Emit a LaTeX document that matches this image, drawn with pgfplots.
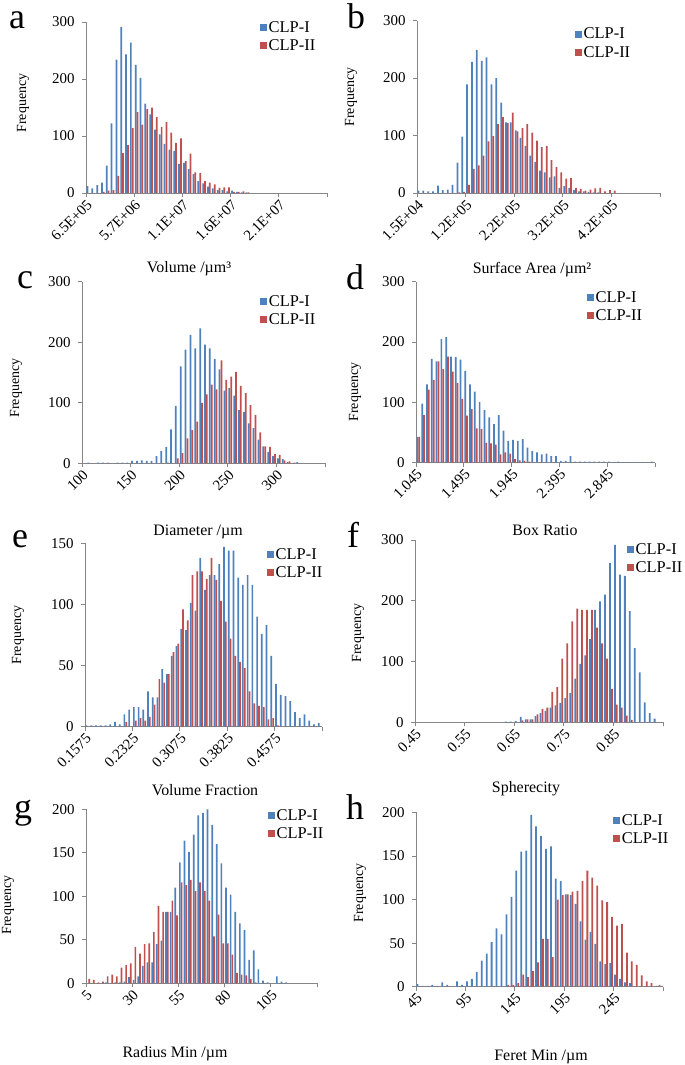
\documentclass[border=0pt]{standalone}
\usepackage{fontspec}
\setmainfont{Liberation Serif}
\usepackage{pgfplots}
\usepackage{pgfplotstable}
\pgfplotsset{compat=1.18}

\definecolor{clpI}{HTML}{4F81BD}
\definecolor{clpII}{HTML}{C0504D}
\definecolor{axg}{HTML}{868686}

% bin index, CLP-I count, CLP-II count
\pgfplotstableread{
i b r
0 12 0
1 8 0
2 14 0
3 18 2
4 48 4
5 122 5
6 234 30
7 291 70
8 243 84
9 264 114
10 225 142
11 202 120
12 157 147
13 138 150
14 111 133
15 103 116
16 86 125
17 76 106
18 74 88
19 51 96
20 53 56
21 42 69
22 33 36
23 21 35
24 17 21
25 11 18
26 8 15
27 5 9
28 5 10
29 3 10
30 4 2
31 2 2
32 1 3
33 1 1
}\tvol

\pgfplotstableread{
i b r
0 4 0
1 4 0
2 3 0
3 3 0
4 13 0
5 5 0
6 6 0
7 14 0
8 53 1
9 98 2
10 189 14
11 228 42
12 249 48
13 230 65
14 236 90
15 189 99
16 200 120
17 157 132
18 123 122
19 123 140
20 109 107
21 96 113
22 82 120
23 65 105
24 54 91
25 39 80
26 36 82
27 27 57
28 29 45
29 9 36
30 12 25
31 9 26
32 5 9
33 3 7
34 3 4
35 2 6
36 1 8
37 1 9
38 0 3
39 0 5
40 0 4
}\tsurf

\pgfplotstableread{
i b r
1 1 0
3 1 0
4 1 0
5 1 0
7 1 0
8 1 0
9 1 0
10 4 0
11 4 0
12 5 0
13 4 0
14 4 0
15 12 0
16 20 0
17 27 1
18 56 0
19 95 8
20 160 17
21 188 41
22 212 55
23 190 69
24 223 100
25 196 114
26 190 130
27 172 122
28 155 170
29 120 138
30 124 143
31 112 151
32 88 128
33 85 116
34 66 96
35 58 80
36 39 51
37 28 28
38 19 27
39 12 15
40 8 14
41 7 5
42 2 3
43 0 1
44 2 0
}\tdiam

\pgfplotstableread{
i b r
0 43 43
1 98 79
2 130 121
3 172 137
4 168 168
5 205 155
6 208 176
7 176 151
8 175 132
9 171 106
10 152 78
11 130 89
12 118 57
13 101 56
14 87 33
15 75 32
16 64 30
17 79 14
18 53 17
19 36 15
20 38 6
21 36 4
22 39 3
23 25 2
24 19 0
25 17 0
26 14 0
27 15 0
28 11 0
29 11 0
30 3 0
31 3 0
32 11 0
33 2 0
34 2 0
35 2 0
36 2 0
37 2 0
38 2 0
39 2 0
40 2 0
41 1 0
42 2 0
43 1 0
44 1 0
45 1 0
46 1 0
47 1 0
48 1 0
49 2 0
}\tbox

\pgfplotstableread{
i b r
0 1 0
1 1 0
2 1 0
3 1 0
4 1 0
5 2 0
6 4 0
7 2 0
8 10 4
9 14 0
10 16 5
11 16 7
12 14 5
13 29 8
14 24 18
15 24 39
16 47 36
17 43 43
18 58 61
19 66 68
20 80 96
21 79 87
22 101 124
23 95 127
24 138 127
25 112 121
26 124 138
27 124 120
28 133 103
29 147 86
30 144 72
31 144 58
32 122 53
33 116 48
34 124 29
35 116 19
36 90 17
37 76 16
38 83 6
39 58 7
40 35 1
41 26 0
42 25 0
43 21 0
44 12 0
45 7 0
46 10 0
47 5 0
48 2 0
49 3 0
}\tfrac

\pgfplotstableread{
i b r
18 1 0
19 1 0
20 2 0
21 9 3
22 5 5
23 5 5
24 10 13
25 15 22
26 19 24
27 24 50
28 28 58
29 32 105
30 40 130
31 48 166
32 72 187
33 96 185
34 110 185
35 137 185
36 185 156
37 199 130
38 210 105
39 262 55
40 292 29
41 243 24
42 241 11
43 183 4
44 122 0
45 82 0
46 33 0
47 15 0
48 6 0
}\tsph

\pgfplotstableread{
i b r
0 0 5
1 0 4
2 0 1
3 0 2
4 1 8
5 0 10
6 1 8
7 1 18
8 2 21
9 7 23
10 4 42
11 8 34
12 20 45
13 24 46
14 24 59
15 45 89
16 49 82
17 82 82
18 82 95
19 110 78
20 139 116
21 164 113
22 151 119
23 171 106
24 193 116
25 196 106
26 200 95
27 182 54
28 160 79
29 138 46
30 110 46
31 102 33
32 82 12
33 69 10
34 61 9
35 27 5
36 38 1
37 16 0
38 3 0
39 1 0
41 8 0
42 2 0
43 1 0
}\trad

\pgfplotstableread{
i b r
0 3 0
1 1 0
2 1 0
3 2 0
4 1 0
5 5 0
6 2 0
8 6 0
9 2 0
10 6 0
11 9 0
12 17 0
13 30 0
14 38 0
15 51 0
16 67 0
17 60 0
18 83 2
19 103 2
20 133 4
21 155 14
22 156 11
23 197 18
24 184 28
25 173 55
26 158 55
27 161 34
28 124 100
29 121 105
30 106 106
31 105 109
32 95 110
33 75 121
34 54 133
35 63 125
36 49 116
37 29 99
38 26 97
39 27 80
40 14 70
41 9 72
42 5 39
43 4 29
44 0 25
45 0 13
46 0 6
47 0 4
48 0 1
49 2 1
}\tferet

\pgfplotsset{
  hist/.style={
    scale only axis, xmin=0, xmax=50, ymin=0,
    axis lines*=left,
    axis line style={-, draw=axg, line width=0.75bp},
    x axis line style={-}, y axis line style={-},
    tick align=outside, major tick length=4bp,
    major tick style={draw=axg, line width=0.75bp},
    xtick={0,10,20,30,40,50},
    x tick label style={rotate=45, anchor=north east, inner sep=1bp,
      font=\fontsize{15}{15}\selectfont},
    y tick label style={font=\fontsize{15}{15}\selectfont, xshift=-4bp},
    /pgf/number format/assume math mode=true,
    legend cell align=left,
    legend style={anchor=north west, draw=none, fill=none, inner sep=0pt,
      row sep=3bp, font=\fontsize{16.5}{17}\selectfont, nodes={inner sep=1.5bp}},
  },
  serI/.style={ybar, bar width=0.36, bar shift=0.31, fill=clpI, draw=none,
    legend image code/.code={\fill[clpI] (0bp,-3.5bp) rectangle (7bp,3.5bp);}},
  serII/.style={ybar, bar width=0.36, bar shift=0.69, fill=clpII, draw=none,
    legend image code/.code={\fill[clpII] (0bp,-3.5bp) rectangle (7bp,3.5bp);}},
}

\newcommand\panel[1]{\fontsize{36}{36}\selectfont #1}
\newcommand\atitle{\fontsize{16}{16}\selectfont}
\newcommand\ftitle{\fontsize{14}{14}\selectfont}

\begin{document}
\begin{tikzpicture}
\useasboundingbox (0bp,0bp) rectangle (685bp,-1065bp);

% a
\begin{axis}[hist, at={(86bp,-193bp)}, anchor=south west, width=241bp, height=171bp,
  ymax=300, ytick={0,100,200,300},
  xticklabels={6.5E+05,5.7E+06,1.1E+07,1.6E+07,2.1E+07,{}},
  legend style={at={(0.722,1.015)}}]
\addplot[serI] table[x=i,y=b]{\tvol}; \addlegendentry{CLP-I}
\addplot[serII] table[x=i,y=r]{\tvol}; \addlegendentry{CLP-II}
\end{axis}

% b
\begin{axis}[hist, at={(417bp,-193bp)}, anchor=south west, width=243bp, height=172.5bp,
  ymax=300, ytick={0,100,200,300},
  xticklabels={1.5E+04,1.2E+05,2.2E+05,3.2E+05,4.2E+05,{}},
  legend style={at={(0.650,0.966)}}]
\addplot[serI] table[x=i,y=b]{\tsurf}; \addlegendentry{CLP-I}
\addplot[serII] table[x=i,y=r]{\tsurf}; \addlegendentry{CLP-II}
\end{axis}

% c
\begin{axis}[hist, at={(82bp,-463.3bp)}, anchor=south west, width=243bp, height=181.6bp,
  ymax=300, ytick={0,100,200,300},
  xticklabels={100,150,200,250,300,{}},
  legend style={at={(0.733,0.934)}}]
\addplot[serI] table[x=i,y=b]{\tdiam}; \addlegendentry{CLP-I}
\addplot[serII] table[x=i,y=r]{\tdiam}; \addlegendentry{CLP-II}
\end{axis}

% d
\begin{axis}[hist, at={(416bp,-462.7bp)}, anchor=south west, width=239bp, height=181bp,
  ymax=300, ytick={0,100,200,300},
  xticklabels={1.045,1.495,1.945,2.395,2.845,{}},
  legend style={at={(0.715,0.956)}}]
\addplot[serI] table[x=i,y=b]{\tbox}; \addlegendentry{CLP-I}
\addplot[serII] table[x=i,y=r]{\tbox}; \addlegendentry{CLP-II}
\end{axis}

% e
\begin{axis}[hist, at={(85bp,-726.7bp)}, anchor=south west, width=237bp, height=183.4bp,
  ymax=150, ytick={0,50,100,150},
  xticklabels={0.1575,0.2325,0.3075,0.3825,0.4575,{}},
  legend style={at={(0.768,0.982)}}]
\addplot[serI] table[x=i,y=b]{\tfrac}; \addlegendentry{CLP-I}
\addplot[serII] table[x=i,y=r]{\tfrac}; \addlegendentry{CLP-II}
\end{axis}

% f
\begin{axis}[hist, at={(415bp,-722.3bp)}, anchor=south west, width=248bp, height=182.3bp,
  ymax=300, ytick={0,100,200,300},
  xticklabels={0.45,0.55,0.65,0.75,0.85,{}},
  legend style={at={(0.855,0.991)}}]
\addplot[serI] table[x=i,y=b]{\tsph}; \addlegendentry{CLP-I}
\addplot[serII] table[x=i,y=r]{\tsph}; \addlegendentry{CLP-II}
\end{axis}

% g
\begin{axis}[hist, at={(86bp,-983.3bp)}, anchor=south west, width=231bp, height=174bp,
  ymax=200, ytick={0,50,100,150,200},
  xticklabels={5,30,55,80,105,{}},
  legend style={at={(0.788,1.010)}}]
\addplot[serI] table[x=i,y=b]{\trad}; \addlegendentry{CLP-I}
\addplot[serII] table[x=i,y=r]{\trad}; \addlegendentry{CLP-II}
\end{axis}

% h
\begin{axis}[hist, at={(416bp,-986.7bp)}, anchor=south west, width=247bp, height=174.4bp,
  ymax=200, ytick={0,50,100,150,200},
  xticklabels={45,95,145,195,245,{}},
  legend style={at={(0.798,0.999)}}]
\addplot[serI] table[x=i,y=b]{\tferet}; \addlegendentry{CLP-I}
\addplot[serII] table[x=i,y=r]{\tferet}; \addlegendentry{CLP-II}
\end{axis}

% panel letters
\node[anchor=base west, inner sep=0] at (9bp,-28bp) {\panel{a}};
\node[anchor=base west, inner sep=0] at (347bp,-28bp) {\panel{b}};
\node[anchor=base west, inner sep=0] at (17bp,-288bp) {\panel{c}};
\node[anchor=base west, inner sep=0] at (346bp,-289bp) {\panel{d}};
\node[anchor=base west, inner sep=0] at (12bp,-547bp) {\panel{e}};
\node[anchor=base west, inner sep=0] at (347bp,-547bp) {\panel{f}};
\node[anchor=base west, inner sep=0] at (14bp,-818bp) {\panel{g}};
\node[anchor=base west, inner sep=0] at (346bp,-819bp) {\panel{h}};

% axis titles
\node[anchor=base, inner sep=0] at (189bp,-272bp) {\atitle Volume /µm³};
\node[anchor=base, inner sep=0] at (532bp,-273bp) {\atitle Surface Area /µm²};
\node[anchor=base, inner sep=0] at (198bp,-535bp) {\atitle Diameter /µm};
\node[anchor=base, inner sep=0] at (545bp,-535bp) {\atitle Box Ratio};
\node[anchor=base, inner sep=0] at (205bp,-795bp) {\atitle Volume Fraction};
\node[anchor=base, inner sep=0] at (526bp,-792bp) {\atitle Spherecity};
\node[anchor=base, inner sep=0] at (175bp,-1057bp) {\atitle Radius Min /µm};
\node[anchor=base, inner sep=0] at (541bp,-1060bp) {\atitle Feret Min /µm};

% frequency labels
\node[rotate=90, inner sep=0] at (23bp,-103bp) {\ftitle Frequency};
\node[rotate=90, inner sep=0] at (351bp,-97bp) {\ftitle Frequency};
\node[rotate=90, inner sep=0] at (16bp,-388bp) {\ftitle Frequency};
\node[rotate=90, inner sep=0] at (355bp,-392bp) {\ftitle Frequency};
\node[rotate=90, inner sep=0] at (18bp,-635bp) {\ftitle Frequency};
\node[rotate=90, inner sep=0] at (358bp,-633bp) {\ftitle Frequency};
\node[rotate=90, inner sep=0] at (8bp,-905bp) {\ftitle Frequency};
\node[rotate=90, inner sep=0] at (360bp,-893bp) {\ftitle Frequency};
\end{tikzpicture}
\end{document}
